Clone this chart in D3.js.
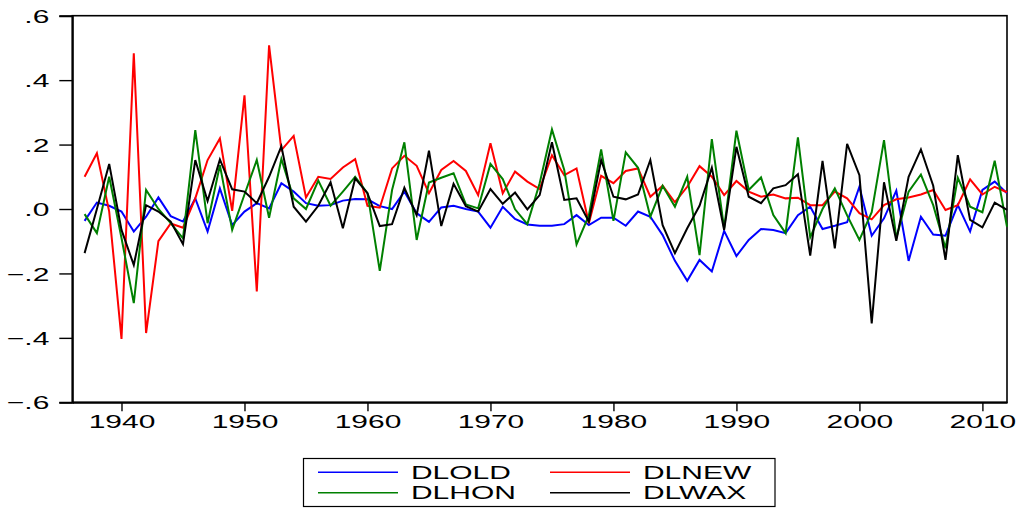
<!DOCTYPE html>
<html>
<head>
<meta charset="utf-8">
<script src="https://cdn.jsdelivr.net/npm/d3@7"></script>
<style>
  body { margin: 0; background: #fff; }
  text { font-family: "Liberation Sans", Arial, sans-serif; }
</style>
</head>
<body>
<div class="container"></div>
<script>
// years 1937..2012 (first difference, 1936 dropped)
const years = d3.range(1937, 2013);

const dlold = [
  -0.037, 0.020, 0.010, -0.008, -0.070, -0.024, 0.036, -0.022, -0.039, 0.033,
  -0.070, 0.064, -0.050, -0.008, 0.018, 0.002, 0.080, 0.054, 0.018, 0.010,
  0.012, 0.026, 0.031, 0.030, 0.009, 0.000,
  0.054, -0.013, -0.040, 0.005, 0.010, 0.000, -0.008, -0.058, 0.007, -0.031,
  -0.048, -0.052, -0.052, -0.047, -0.019, -0.050, -0.027, -0.027, -0.052, -0.008,
  -0.024, -0.081, -0.161, -0.223, -0.158,
  -0.194, -0.068, -0.146, -0.096, -0.062, -0.065, -0.075, -0.019, 0.007, -0.062,
  -0.052, -0.041, 0.069, -0.083, -0.029, 0.057, -0.161, -0.024, -0.079, -0.083,
  0.012, -0.070, 0.059, 0.085, 0.049
];

const dlnew = [
  0.100, 0.173, -0.008, -0.403, 0.483, -0.385, -0.100, -0.045, -0.058, 0.033,
  0.152, 0.219, -0.006, 0.353, -0.256, 0.508, 0.183, 0.227, 0.036, 0.100,
  0.093, 0.129, 0.155, 0.010, 0.004, 0.126,
  0.165, 0.134, 0.049, 0.121, 0.149, 0.118, 0.043, 0.204, 0.049, 0.116,
  0.085, 0.062, 0.167, 0.105, 0.126, -0.044, 0.103, 0.080, 0.118, 0.126,
  0.038, 0.072, 0.021, 0.069, 0.133,
  0.100, 0.043, 0.087, 0.054, 0.038, 0.045, 0.033, 0.035, 0.012, 0.012,
  0.054, 0.033, -0.013, -0.032, 0.012, 0.030, 0.036, 0.045, 0.059, -0.003,
  0.012, 0.092, 0.045, 0.069, 0.052
];

const dlhon = [
  -0.016, -0.075, 0.100, -0.090, -0.292, 0.059, 0.000, -0.044, -0.091, 0.245,
  -0.044, 0.136, -0.065, 0.045, 0.152, -0.027, 0.155, 0.033, 0.000, 0.088,
  0.010, 0.054, 0.100, 0.049, -0.192, 0.059,
  0.207, -0.096, 0.082, 0.097, 0.111, 0.014, 0.002, 0.140, 0.093, -0.001,
  -0.047, 0.080, 0.247, 0.121, -0.110, -0.020, 0.185, -0.037, 0.176, 0.128,
  -0.024, 0.072, 0.007, 0.100, -0.143,
  0.217, -0.060, 0.243, 0.059, 0.098, -0.019, -0.075, 0.222, -0.088, 0.000,
  0.064, -0.020, -0.096, -0.010, 0.214, -0.091, 0.054, 0.107, 0.012, -0.122,
  0.097, 0.007, -0.010, 0.150, -0.055
];

const dlwax = [
  -0.137, 0.000, 0.140, -0.065, -0.174, 0.012, -0.008, -0.039, -0.109, 0.152,
  0.025, 0.154, 0.061, 0.054, 0.018, 0.100, 0.195, 0.007, -0.039, 0.010,
  0.083, -0.060, 0.095, 0.049, -0.053, -0.047,
  0.066, -0.019, 0.181, -0.053, 0.078, 0.009, -0.008, 0.062, 0.016, 0.051,
  -0.001, 0.043, 0.207, 0.028, 0.033, -0.039, 0.152, 0.038, 0.030, 0.045,
  0.152, -0.050, -0.137, -0.060, 0.010,
  0.128, -0.065, 0.193, 0.038, 0.018, 0.064, 0.074, 0.108, -0.145, 0.149,
  -0.122, 0.202, 0.105, -0.355, 0.083, -0.099, 0.100, 0.185, 0.072, -0.158,
  0.167, -0.034, -0.057, 0.020, -0.003
];

const seriesNames = ["DLOLD", "DLNEW", "DLHON", "DLWAX"];
const seriesColors = ["#0000ff", "#ff0000", "#008000", "#000000"];
const seriesValues = [dlold, dlnew, dlhon, dlwax];

const xTicks = [1940, 1950, 1960, 1970, 1980, 1990, 2000, 2010];
const yTicks = [-0.6, -0.4, -0.2, 0.0, 0.2, 0.4, 0.6];

const W = 1018, H = 508;
const margin = {top: 15.7, right: 11, bottom: 105.7, left: 72.3};
const width = W - margin.left - margin.right,
  height = H - margin.top - margin.bottom;
const stretch = 1.62; // the reference font is drawn wide

const svg = d3.select(".container")
  .append("svg")
  .attr("width", W)
  .attr("height", H);

const x = d3.scaleLinear().domain([1936, 2012]).range([margin.left, margin.left + width]);
const y = d3.scaleLinear().domain([-0.6, 0.6]).range([margin.top + height, margin.top]);

const fmtY = d => d3.format(".1f")(d).replace("0.", ".").replace("-.0", ".0");

// frame
svg.append("rect")
  .attr("x", margin.left)
  .attr("y", margin.top)
  .attr("width", width)
  .attr("height", height)
  .attr("fill", "none")
  .attr("stroke", "#000")
  .attr("stroke-width", 1.6);

// lines
const line = d3.line()
  .x((d, i) => x(years[i]))
  .y(d => y(d));

svg.append("g")
  .selectAll("path")
  .data(seriesValues)
  .join("path")
  .attr("fill", "none")
  .attr("stroke", (d, i) => seriesColors[i])
  .attr("stroke-width", 2)
  .attr("stroke-linejoin", "miter")
  .attr("d", line);

// axes
svg.append("g")
  .attr("transform", `translate(${margin.left},0)`)
  .call(d3.axisLeft(y).tickValues(yTicks).tickFormat(fmtY).tickSize(13).tickPadding(0))
  .call(g => g.select(".domain").attr("stroke-width", 2))
  .call(g => g.selectAll(".tick line").attr("stroke-width", 1.4))
  .call(g => g.selectAll(".tick text")
    .attr("x", -23 / stretch)
    .attr("dy", "0.36em")
    .attr("font-size", 18.5)
    .attr("fill", "#000")
    .attr("transform", `scale(${stretch},1)`));

svg.append("g")
  .attr("transform", `translate(0,${margin.top + height})`)
  .call(d3.axisBottom(x).tickValues(xTicks).tickFormat(d3.format("d")).tickSize(9).tickSizeOuter(0))
  .call(g => g.select(".domain").attr("stroke-width", 2))
  .call(g => g.selectAll(".tick line").attr("stroke-width", 1.4))
  .call(g => g.selectAll(".tick text")
    .attr("y", 26)
    .attr("dy", 0)
    .attr("font-size", 18.5)
    .attr("fill", "#000")
    .attr("transform", `scale(${stretch},1)`));

// legend
const legend = svg.append("g");
legend.append("rect")
  .attr("x", 303.5)
  .attr("y", 458.5)
  .attr("width", 471.5)
  .attr("height", 48)
  .attr("fill", "#fff")
  .attr("stroke", "#000")
  .attr("stroke-width", 1.2);

const legendX = [318, 550];
const legendY = [472.3, 492.7];

const item = legend.selectAll("g.item")
  .data(seriesNames)
  .join("g")
  .attr("class", "item")
  .attr("transform", (d, i) => `translate(${legendX[i % 2]},${legendY[Math.floor(i / 2)]})`);

item.append("line")
  .attr("x1", 0)
  .attr("x2", 80)
  .attr("stroke", (d, i) => seriesColors[i])
  .attr("stroke-width", 1.5);

item.append("text")
  .attr("x", 93 / stretch)
  .attr("dy", "0.36em")
  .attr("font-size", 18.5)
  .attr("transform", `scale(${stretch},1)`)
  .text(d => d);
</script>
</body>
</html>
